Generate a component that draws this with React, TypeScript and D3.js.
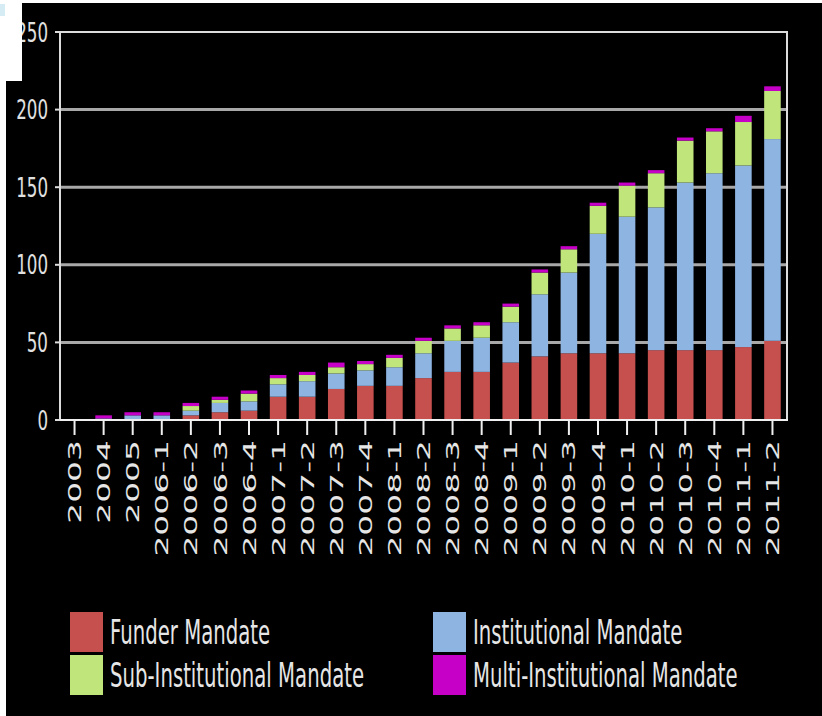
import React from "react";
import * as d3 from "d3";

const categories = ["2003","2004","2005","2006-1","2006-2","2006-3","2006-4","2007-1","2007-2","2007-3","2007-4","2008-1","2008-2","2008-3","2008-4","2009-1","2009-2","2009-3","2009-4","2010-1","2010-2","2010-3","2010-4","2011-1","2011-2"];
const funder = [0,0,0,0,3,5,6,15,15,20,22,22,27,31,31,37,41,43,43,43,45,45,45,47,51];
const institutional = [0,1,3,3,3,6,6,8,10,10,10,12,16,20,22,26,40,52,77,88,92,108,114,117,130];
const subInstitutional = [0,0,0,0,3,2,5,4,4,4,4,6,8,8,8,10,14,15,18,20,22,27,27,28,31];
const multiInstitutional = [0,2,2,2,2,2,2,2,2,3,2,2,2,2,2,2,2,2,2,2,2,2,2,4,3];
const yTicks = [0,50,100,150,200,250];
const seriesNames = ["Funder Mandate","Institutional Mandate","Sub-Institutional Mandate","Multi-Institutional Mandate"];
const seriesColors = ["#c5504e","#8eb4e2","#c0e57a","#c700c7"];

const W = 822, H = 716;
const L = 60, R = 787, T = 32, B = 420;

export default function App() {
  const x = d3.scaleBand<string>().domain(categories).range([L, R]).paddingInner(0.43).paddingOuter(0.215);
  const y = d3.scaleLinear().domain([0, 250]).range([B, T]);
  const rows = categories.map((c, i) => ({
    cat: c,
    s0: funder[i], s1: institutional[i], s2: subInstitutional[i], s3: multiInstitutional[i],
  }));
  const stack = d3.stack<any>().keys(["s0","s1","s2","s3"]);
  const layers = stack(rows);
  const font = "'DejaVu Sans', sans-serif";
  const legendPos = [
    { x: 70, y: 612 }, { x: 433, y: 612 }, { x: 70, y: 655 }, { x: 433, y: 655 },
  ];
  return (
    <svg width={W} height={H} style={{ position: "absolute", left: 0, top: 0 }} fontFamily={font}>
      <rect x={0} y={0} width={W} height={H} fill="#000" />
      {/* gridlines */}
      {yTicks.filter(t => t > 0 && t < 250).map(t => (
        <line key={"g" + t} x1={L} x2={R} y1={y(t)} y2={y(t)} stroke="#a8a8a8" strokeWidth={3} />
      ))}
      {/* bars */}
      {layers.map((layer, si) => (
        <g key={"l" + si} fill={seriesColors[si]}>
          {layer.map((d, i) => {
            const h = y(d[0]) - y(d[1]);
            if (h <= 0) return null;
            return <rect key={i} x={x(categories[i])} y={y(d[1])} width={x.bandwidth()} height={h} />;
          })}
        </g>
      ))}
      {/* frame */}
      <line x1={55} x2={R + 1} y1={T} y2={T} stroke="#dcdcdc" strokeWidth={2} />
      <line x1={R} x2={R} y1={T} y2={B} stroke="#dcdcdc" strokeWidth={2} />
      <line x1={L} x2={L} y1={T} y2={B} stroke="#dcdcdc" strokeWidth={2} />
      <line x1={L} x2={R + 1} y1={B} y2={B} stroke="#f0f0f0" strokeWidth={2} />
      {/* y ticks */}
      {yTicks.map(t => (
        <g key={"y" + t}>
          <line x1={55} x2={L} y1={y(t)} y2={y(t)} stroke="#dcdcdc" strokeWidth={2} />
          <text transform={`translate(48,${y(t)}) scale(1,1.6)`} textAnchor="end" dy="0.36em" fontSize={16.7} fill="#e0e0e0">{t}</text>
        </g>
      ))}
      {/* x ticks */}
      {categories.map(c => {
        const cx = (x(c) as number) + x.bandwidth() / 2;
        return (
          <g key={"x" + c}>
            <line x1={cx} x2={cx} y1={B} y2={435} stroke="#f0f0f0" strokeWidth={2} />
            <text transform={`translate(${cx},440) rotate(-90) scale(1.8,1)`} textAnchor="end" dy="0.36em" fontSize={18.3} fill="#e6e6e6">{c}</text>
          </g>
        );
      })}
      {/* legend */}
      {seriesNames.map((n, i) => (
        <g key={"lg" + i}>
          <rect x={legendPos[i].x} y={legendPos[i].y} width={33} height={40} fill={seriesColors[i]} />
          <text transform={`translate(${legendPos[i].x + 40},${legendPos[i].y + 20}) scale(1,1.7)`} dy="0.36em" fontSize={19.7} fill="#e6e6e6">{n}</text>
        </g>
      ))}
      {/* white page edges */}
      <rect x={0} y={0} width={W} height={3} fill="#fff" />
      <rect x={0} y={0} width={6} height={H} fill="#fff" />
      <rect x={0} y={0} width={22} height={81} fill="#fff" />
      <rect x={0} y={4} width={5} height={12} fill="#d6ecf4" />
    </svg>
  );
}
